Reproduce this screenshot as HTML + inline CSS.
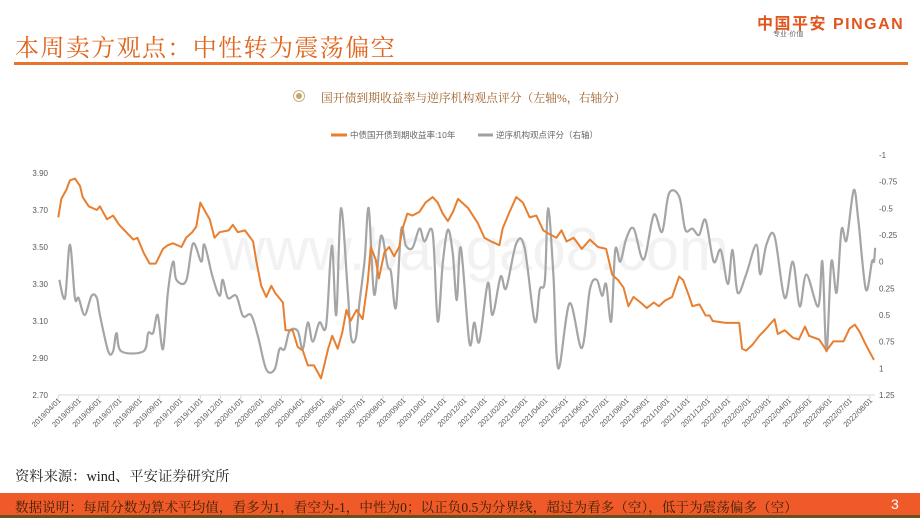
<!DOCTYPE html>
<html><head><meta charset="utf-8"><style>
body{margin:0;width:920px;height:518px;overflow:hidden;background:#fff;position:relative;font-family:"Liberation Sans","Noto Sans CJK SC",sans-serif}
.abs{position:absolute;white-space:nowrap}
</style></head><body>
<div class="abs" style="left:15px;top:28px;font-size:24px;color:#e0661e;font-family:'Liberation Serif','Noto Serif CJK SC',serif;letter-spacing:1.4px">本周卖方观点：中性转为震荡偏空</div>
<div class="abs" style="left:14px;top:62px;width:894px;height:3px;background:#e8742a"></div>
<div class="abs" style="left:757px;top:10px;font-size:16px;font-weight:bold;color:#e0561e;letter-spacing:1.5px">中国平安 PINGAN</div>
<div class="abs" style="left:773px;top:29px;font-size:7px;color:#666">专业·价值</div>
<div class="abs" style="left:293px;top:90px;width:12px;height:12px;border:1px solid #d0b080;border-radius:50%;box-sizing:border-box"><div style="position:absolute;left:2px;top:2px;width:6px;height:6px;border-radius:50%;background:#c8a868"></div></div>
<div class="abs" style="left:321px;top:89px;font-size:11.8px;color:#a0622a;font-family:'Liberation Serif','Noto Serif CJK SC',serif">国开债到期收益率与逆序机构观点评分（左轴%，右轴分）</div>
<svg class="abs" style="left:0;top:0" width="920" height="518">
<g font-size="8.5" fill="#666">
<line x1="331" y1="135" x2="347" y2="135" stroke="#e87f30" stroke-width="3"/>
<text x="350" y="138">中债国开债到期收益率:10年</text>
<line x1="478" y1="135" x2="493" y2="135" stroke="#a0a0a0" stroke-width="3"/>
<text x="496" y="138">逆序机构观点评分（右轴）</text>
</g>
<g id="axes"></g>
<g id="series"></g>
</svg>
<div class="abs" style="left:15px;top:466px;font-size:14.3px;color:#222;font-family:'Liberation Serif','Noto Serif CJK SC',serif">资料来源：wind、平安证券研究所</div>
<div class="abs" style="left:0;top:493px;width:920px;height:22px;background:#f05a28"></div>
<div class="abs" style="left:0;top:515px;width:920px;height:3px;background:#6a5020"></div>
<div class="abs" style="left:15px;top:496px;font-size:13.6px;color:#3a2208;font-family:'Liberation Serif','Noto Serif CJK SC',serif">数据说明：每周分数为算术平均值，看多为1，看空为-1，中性为0；以正负0.5为分界线，超过为看多（空），低于为震荡偏多（空）</div>
<div class="abs" style="left:891px;top:496px;font-size:14px;color:#fff">3</div>
<script>
const leftTicks=["3.90","3.70","3.50","3.30","3.10","2.90","2.70"];
const rightTicks=["-1","-0.75","-0.5","-0.25","0","0.25","0.5","0.75","1","1.25"];
const yieldT=[0,0.15,0.4,0.57,0.82,1.07,1.2,1.5,1.9,2.05,2.4,2.7,3.0,3.35,3.7,3.9,4.2,4.5,4.8,5.16,5.4,5.65,6.07,6.3,6.6,6.8,7.0,7.2,7.46,7.7,7.95,8.4,8.6,8.85,9.2,9.6,9.75,10.0,10.25,10.5,10.7,11.07,11.2,11.55,11.8,12.05,12.3,12.6,12.95,13.3,13.5,13.77,14.0,14.2,14.4,14.7,15.0,15.25,15.4,15.65,15.8,16.07,16.3,16.55,16.8,16.97,17.2,17.46,17.8,18.1,18.45,18.7,18.95,19.2,19.45,19.7,20.2,20.67,21.0,21.33,21.74,21.9,22.24,22.57,22.9,23.23,23.56,23.9,24.2,24.55,24.8,25.05,25.4,25.8,26.2,26.6,27.0,27.3,27.6,27.86,28.1,28.35,28.7,29.0,29.35,29.6,29.9,30.25,30.6,30.8,31.1,31.25,31.6,31.9,32.1,32.25,32.9,33.56,33.7,33.9,34.2,34.55,34.9,35.3,35.46,35.8,36.2,36.5,36.8,37.0,37.5,37.86,38.2,38.7,39.0,39.26,39.5,39.76,40.0,40.2];
const yieldV=[3.66,3.76,3.81,3.86,3.87,3.83,3.77,3.72,3.70,3.72,3.65,3.67,3.62,3.58,3.54,3.55,3.47,3.41,3.41,3.49,3.51,3.52,3.50,3.55,3.58,3.61,3.74,3.70,3.65,3.55,3.58,3.59,3.62,3.58,3.59,3.53,3.43,3.29,3.23,3.29,3.25,3.20,3.05,3.05,2.96,2.94,2.86,2.86,2.79,2.95,3.02,2.95,3.04,3.16,3.10,3.16,3.11,3.31,3.50,3.43,3.33,3.47,3.50,3.45,3.50,3.60,3.68,3.67,3.69,3.74,3.77,3.74,3.68,3.64,3.69,3.76,3.71,3.63,3.55,3.53,3.51,3.60,3.69,3.77,3.74,3.66,3.67,3.59,3.57,3.55,3.59,3.53,3.55,3.49,3.54,3.50,3.49,3.35,3.32,3.28,3.18,3.23,3.20,3.17,3.20,3.18,3.21,3.23,3.34,3.32,3.23,3.18,3.19,3.13,3.13,3.10,3.09,3.09,2.95,2.94,2.97,3.02,3.06,3.11,3.03,3.05,3.01,3.00,3.07,3.02,3.00,2.94,2.99,2.99,3.06,3.08,3.04,2.98,2.93,2.89];
const scoreT=[0.05,0.33,0.57,0.82,1.0,1.3,1.64,1.9,2.05,2.46,2.7,2.87,3.1,4.2,4.43,4.67,4.9,5.16,5.4,5.66,5.82,6.3,6.64,7.05,7.2,7.6,7.95,8.1,8.36,8.77,9.1,9.5,9.84,10.25,10.66,10.9,11.15,11.4,11.8,12.05,12.3,12.54,12.87,13.2,13.48,13.7,13.93,14.26,14.43,14.67,14.84,15.1,15.3,15.57,15.9,16.23,16.4,16.64,16.9,17.13,17.46,17.8,18.05,18.45,18.7,18.95,19.2,19.44,19.64,19.84,20.26,20.5,20.75,21.17,21.4,21.8,22.07,22.57,22.98,23.48,23.73,23.98,24.14,24.4,24.64,25.2,25.8,26.2,26.54,26.8,27.0,27.25,27.45,27.7,28.0,28.36,28.85,29.35,29.76,30.1,30.6,30.9,31.25,31.58,31.9,32.3,32.65,33.0,33.23,33.48,33.9,34.4,34.6,34.9,35.3,35.8,36.2,36.54,36.87,37.45,37.66,37.86,38.1,38.36,38.6,38.85,39.2,39.43,39.8,40.1,40.2,40.26];
const scoreV=[0.17,0.34,-0.16,0.34,0.34,0.5,0.32,0.34,0.5,0.84,0.84,0.67,0.84,0.84,0.67,0.67,0.5,0.82,0.29,0.0,0.17,0.18,-0.17,0.0,-0.16,0.14,0.32,0.17,0.34,0.32,0.51,0.5,0.70,1.01,1.01,0.82,0.82,0.65,0.65,0.82,0.57,0.75,0.57,0.6,-0.15,0.5,-0.5,0.26,0.71,0.71,0.39,-0.02,-0.5,0.31,-0.24,0.04,0.1,0.43,-0.3,-0.15,-0.13,-0.31,-0.19,-0.27,0.56,0.01,-0.3,-0.08,0.36,-0.13,0.76,0.57,0.75,0.2,0.5,0.14,0.25,-0.17,-0.13,0.56,0.26,0.18,-0.5,0.12,1.0,0.39,0.81,0.26,0.17,0.32,0.21,0.56,-0.11,0.0,-0.22,-0.31,-0.02,-0.44,-0.28,-0.64,-0.61,-0.3,-0.31,-0.25,-0.39,0.0,-0.11,0.21,-0.11,0.29,0.12,-0.16,0.12,-0.16,-0.24,0.34,0.0,0.42,0.12,0.42,0.0,0.84,0.0,0.29,-0.3,-0.2,-0.67,-0.39,0.26,0.0,0.0,-0.13];
const NS="http://www.w3.org/2000/svg";
const X0=58.3,DX=20.29;
function xs(t){return X0+t*DX;}
function yl(v){return 395-(v-2.7)/1.2*222;}
function yr(v){return 155+(v+1)/2.25*240;}
function mk(tag,attrs,parent){const e=document.createElementNS(NS,tag);for(const k in attrs)e.setAttribute(k,attrs[k]);parent.appendChild(e);return e;}
const ax=document.getElementById('axes');
const base=mk('line',{x1:X0,y1:395,x2:875,y2:395,stroke:'#d9d9d9','stroke-width':1},ax);


leftTicks.forEach(s=>{const t=mk('text',{x:48,y:yl(parseFloat(s))+3,'text-anchor':'end','font-size':8,fill:'#595959'},ax);t.textContent=s;

});
rightTicks.forEach(s=>{const t=mk('text',{x:879,y:yr(parseFloat(s))+3,'font-size':8,fill:'#595959'},ax);t.textContent=s;

});
for(let i=0;i<=40;i++){const y=2019+Math.floor((i+3)/12),m=(i+3)%12+1;const lab=y+'/'+(m<10?'0':'')+m+'/01';const x=xs(i);
mk('line',{x1:x,y1:395,x2:x,y2:399,stroke:'#d9d9d9'},ax);
const t=mk('text',{x:x+3,y:401,'text-anchor':'end','font-size':7.5,fill:'#595959',transform:'rotate(-45 '+(x+3)+' 401)'},ax);t.textContent=lab;

}
const wm=mk('text',{x:222,y:270,'font-size':60,fill:'#e6e6e6','fill-opacity':0.5},ax);wm.textContent='www.baogao8.com';


function smooth(pts){let d='M'+pts[0][0]+','+pts[0][1];for(let i=0;i<pts.length-1;i++){const p0=pts[Math.max(0,i-1)],p1=pts[i],p2=pts[i+1],p3=pts[Math.min(pts.length-1,i+2)];
const c1=[p1[0]+(p2[0]-p0[0])/6,p1[1]+(p2[1]-p0[1])/6],c2=[p2[0]-(p3[0]-p1[0])/6,p2[1]-(p3[1]-p1[1])/6];d+='C'+c1+' '+c2+' '+p2;}return d;}
const sg=document.getElementById('series');
const gp=mk('path',{d:smooth(scoreT.map((t,i)=>[xs(t),yr(scoreV[i])])),fill:'none',stroke:'#a5a5a5','stroke-width':2.2},sg);


const op=mk('path',{d:'M'+yieldT.map((t,i)=>xs(t)+','+yl(yieldV[i])).join('L'),fill:'none',stroke:'#e87f30','stroke-width':2,'stroke-linejoin':'round'},sg);


</script>
</body></html>
